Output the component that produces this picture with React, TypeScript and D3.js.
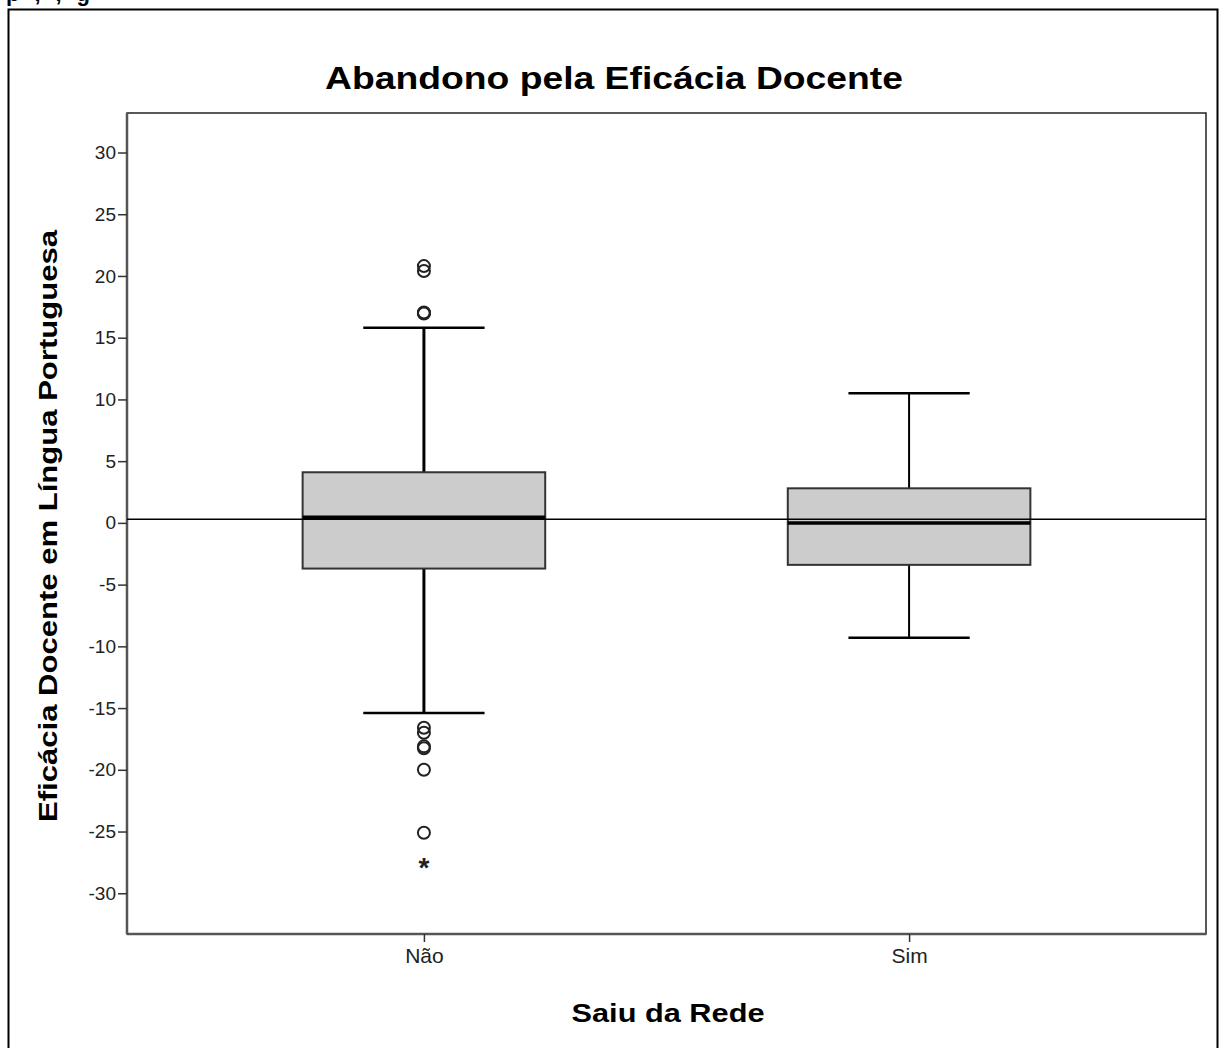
import { useEffect, useRef } from "react";
import * as d3 from "d3";

// categories and box statistics
const groups = ["Não", "Sim"];
const lowerWhisker = [-15.4, -9.3];
const q1 = [-3.7, -3.4];
const median = [0.45, 0.0];
const q3 = [4.1, 2.8];
const upperWhisker = [15.8, 10.5];

// outliers (circles) and extremes (stars), per group
const outlierGroup = ["Não", "Não", "Não", "Não", "Não", "Não", "Não", "Não", "Não", "Não", "Não"];
const outlierValues = [20.8, 20.4, 17.0, 17.05, 16.95, -16.6, -17.0, -18.1, -18.25, -20.0, -25.1];
const extremeGroup = ["Não"];
const extremeValues = [-27.6];

const yTicks = [-30, -25, -20, -15, -10, -5, 0, 5, 10, 15, 20, 25, 30];
const referenceValue = 0.3;

const W = 1221;
const H = 1048;
const FONT = "'Liberation Sans', Arial, sans-serif";

export default function App() {
  const ref = useRef<SVGSVGElement>(null);

  useEffect(() => {
    const svg = d3.select(ref.current);
    svg.selectAll("*").remove();

    const plot = { left: 127, right: 1206, top: 113, bottom: 934 };

    const y = d3.scaleLinear().domain([-33.3, 33.2]).range([plot.bottom, plot.top]);
    const x = d3.scalePoint<string>().domain(groups).range([plot.left, plot.right]).padding(0.612);
    const step = x.step();
    const boxW = step * 0.5;
    const capW = boxW * 0.5;

    // outer frame (bottom cut off by the picture)
    svg.append("rect")
      .attr("x", 8.5).attr("y", 9.5)
      .attr("width", 1209).attr("height", H + 20)
      .attr("fill", "none").attr("stroke", "#000").attr("stroke-width", 2);

    // caption cut off at the top edge, as in the source picture
    svg.append("text")
      .attr("x", 6).attr("y", 1)
      .attr("textLength", 84).attr("lengthAdjust", "spacing")
      .attr("font-family", FONT).attr("font-weight", "bold").attr("font-size", 22)
      .text("p,,g");

    // title
    svg.append("text")
      .attr("x", 614).attr("y", 89)
      .attr("text-anchor", "middle")
      .attr("textLength", 578).attr("lengthAdjust", "spacingAndGlyphs")
      .attr("font-family", FONT).attr("font-weight", "bold").attr("font-size", 32)
      .text("Abandono pela Eficácia Docente");

    // plot frame
    svg.append("rect")
      .attr("x", plot.left).attr("y", plot.top)
      .attr("width", plot.right - plot.left).attr("height", plot.bottom - plot.top)
      .attr("fill", "none").attr("stroke", "#222").attr("stroke-width", 1.5);
    svg.append("line")
      .attr("x1", plot.left).attr("x2", plot.left)
      .attr("y1", plot.top).attr("y2", plot.bottom)
      .attr("stroke", "#555").attr("stroke-width", 2.5);
    svg.append("line")
      .attr("x1", plot.left).attr("x2", plot.right)
      .attr("y1", plot.bottom).attr("y2", plot.bottom)
      .attr("stroke", "#555").attr("stroke-width", 2.5);

    // y axis
    const yAxis = svg.append("g")
      .attr("transform", `translate(${plot.left},0)`)
      .call(d3.axisLeft(y).tickValues(yTicks).tickSize(9).tickPadding(2).tickFormat((d) => String(d)));
    yAxis.select(".domain").remove();
    yAxis.selectAll("line").attr("stroke", "#333").attr("stroke-width", 1.5);
    yAxis.selectAll("text")
      .attr("font-family", FONT).attr("font-size", 19).attr("fill", "#222");

    // x axis
    const xAxis = svg.append("g")
      .attr("transform", `translate(0,${plot.bottom})`)
      .call(d3.axisBottom(x).tickSize(8).tickPadding(6));
    xAxis.select(".domain").remove();
    xAxis.selectAll("line").attr("stroke", "#333").attr("stroke-width", 1.5);
    xAxis.selectAll("text")
      .attr("font-family", FONT).attr("font-size", 21).attr("fill", "#222");

    // axis titles
    svg.append("text")
      .attr("transform", `translate(57,526) rotate(-90)`)
      .attr("text-anchor", "middle")
      .attr("textLength", 592).attr("lengthAdjust", "spacingAndGlyphs")
      .attr("font-family", FONT).attr("font-weight", "bold").attr("font-size", 26)
      .text("Eficácia Docente em Língua Portuguesa");
    svg.append("text")
      .attr("x", 668).attr("y", 1022)
      .attr("text-anchor", "middle")
      .attr("textLength", 193).attr("lengthAdjust", "spacingAndGlyphs")
      .attr("font-family", FONT).attr("font-weight", "bold").attr("font-size", 26)
      .text("Saiu da Rede");

    // boxes
    groups.forEach((g, i) => {
      const cx = x(g)!;
      const sw = i === 0 ? 3 : 2;
      const gg = svg.append("g");
      // whiskers
      gg.append("line")
        .attr("x1", cx).attr("x2", cx)
        .attr("y1", y(upperWhisker[i])).attr("y2", y(q3[i]))
        .attr("stroke", "#000").attr("stroke-width", sw);
      gg.append("line")
        .attr("x1", cx).attr("x2", cx)
        .attr("y1", y(q1[i])).attr("y2", y(lowerWhisker[i]))
        .attr("stroke", "#000").attr("stroke-width", sw);
      [upperWhisker[i], lowerWhisker[i]].forEach((v) => {
        gg.append("line")
          .attr("x1", cx - capW / 2).attr("x2", cx + capW / 2)
          .attr("y1", y(v)).attr("y2", y(v))
          .attr("stroke", "#000").attr("stroke-width", 2.5);
      });
      gg.append("rect")
        .attr("x", cx - boxW / 2).attr("y", y(q3[i]))
        .attr("width", boxW).attr("height", y(q1[i]) - y(q3[i]))
        .attr("fill", "#cccccc").attr("stroke", "#333").attr("stroke-width", 2);
      gg.append("line")
        .attr("x1", cx - boxW / 2).attr("x2", cx + boxW / 2)
        .attr("y1", y(median[i])).attr("y2", y(median[i]))
        .attr("stroke", "#000").attr("stroke-width", 3.5);
    });

    // reference line
    svg.append("line")
      .attr("x1", plot.left).attr("x2", plot.right)
      .attr("y1", y(referenceValue)).attr("y2", y(referenceValue))
      .attr("stroke", "#000").attr("stroke-width", 1.5);

    // outliers
    svg.append("g")
      .selectAll("circle")
      .data(outlierValues)
      .join("circle")
      .attr("cx", (_, i) => x(outlierGroup[i])!)
      .attr("cy", (d) => y(d))
      .attr("r", 6)
      .attr("fill", "none")
      .attr("stroke", "#222")
      .attr("stroke-width", 2);

    svg.append("g")
      .selectAll("text")
      .data(extremeValues)
      .join("text")
      .attr("x", (_, i) => x(extremeGroup[i])!)
      .attr("y", (d) => y(d) + 13)
      .attr("text-anchor", "middle")
      .attr("font-family", FONT).attr("font-weight", "bold").attr("font-size", 28)
      .attr("fill", "#222")
      .text("*");
  }, []);

  return (
    <svg ref={ref} width={W} height={H} style={{ position: "absolute", left: 0, top: 0 }} />
  );
}
